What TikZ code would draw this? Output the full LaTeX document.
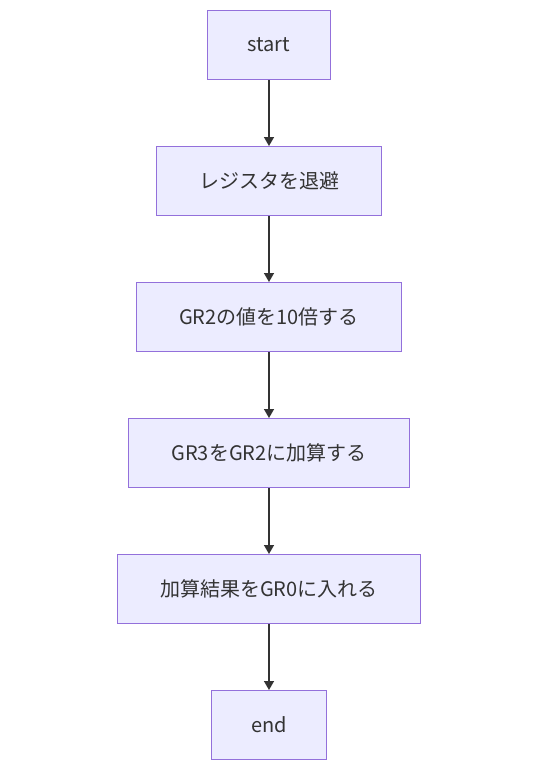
\documentclass[tikz,border=0pt]{standalone}
\usepackage{fontspec}
\setmainfont{Noto Sans CJK JP}
\usetikzlibrary{arrows.meta,positioning}
\definecolor{boxfill}{HTML}{ECECFF}
\definecolor{boxline}{HTML}{9370DB}
\definecolor{arrowgray}{HTML}{333333}

\tikzset{
  stepbox/.style={draw=boxline, fill=boxfill, line width=1pt, minimum height=69pt,
    inner xsep=42.5pt, text=black!80, font=\fontsize{20}{24}\selectfont},
  flow/.style={draw=arrowgray, line width=1.4pt, -{Triangle[length=9pt,width=10pt]}}
}

\begin{document}
\begin{tikzpicture}[x=1pt, y=1pt, node distance=66pt]
    % Canvas
    \useasboundingbox (0,0) rectangle (538,-772);

    % Steps
    \node[stepbox, inner xsep=40pt] (start) at (269,-45) {start};
    \node[stepbox, below=of start] (save) {レジスタを退避};
    \node[stepbox, below=of save] (mul) {GR2の値を10倍する};
    \node[stepbox, below=of mul] (add) {GR3をGR2に加算する};
    \node[stepbox, below=of add] (store) {加算結果をGR0に入れる};
    \node[stepbox, inner xsep=40pt, below=of store] (end) {end};

    % Connectors
    \foreach \a/\b in {start/save, save/mul, mul/add, add/store, store/end} {
        \draw[flow] (\a) -- (\b);
    }
\end{tikzpicture}
\end{document}
